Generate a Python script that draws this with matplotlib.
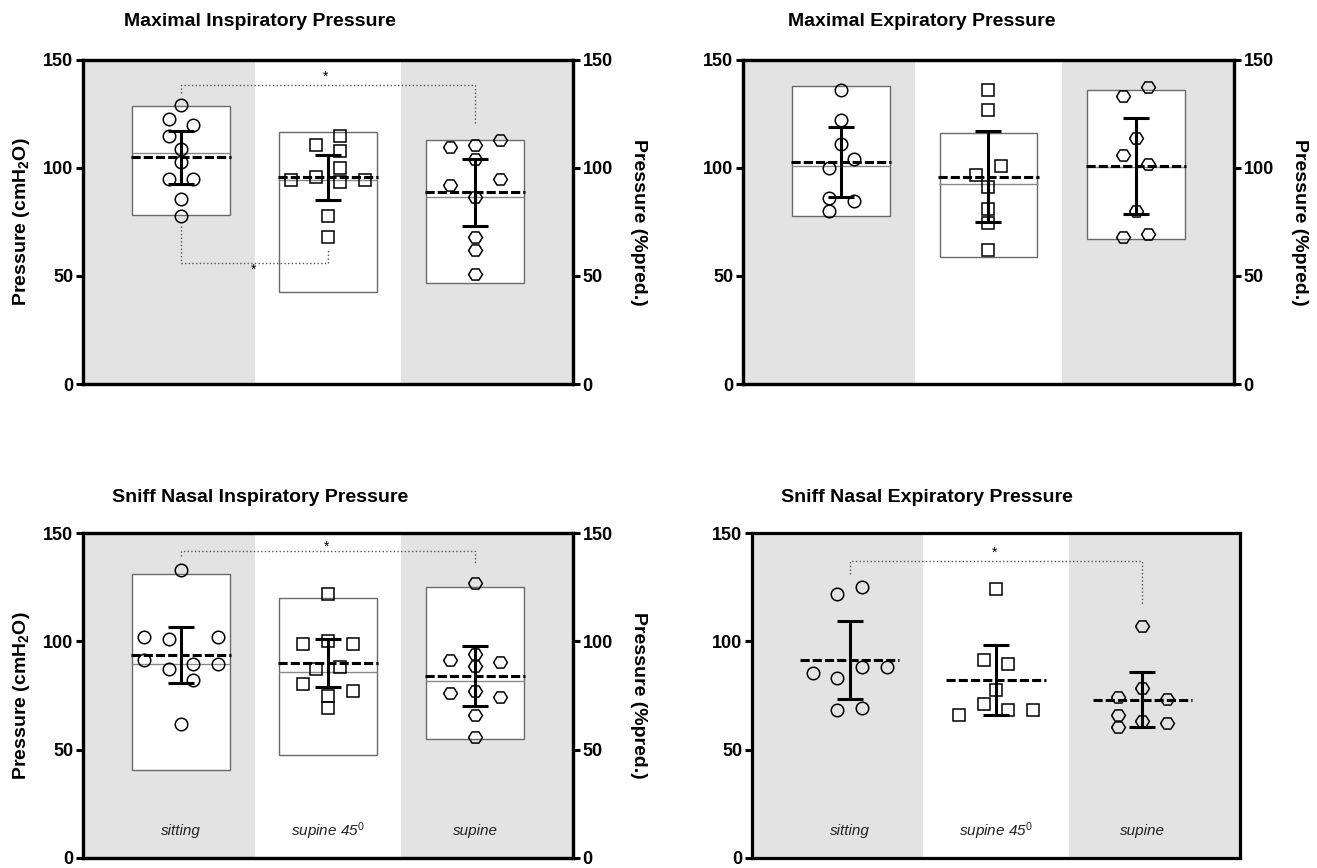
import matplotlib.pyplot as plt
from matplotlib import font_manager

installed = {f.name for f in font_manager.fontManager.ttflist}
narrow = "Liberation Sans Narrow" in installed

plt.rcParams["font.family"] = ["Liberation Sans", "DejaVu Sans"]
plt.rcParams["mathtext.fontset"] = "custom"
plt.rcParams["mathtext.rm"] = "Liberation Sans"
plt.rcParams["mathtext.it"] = "Liberation Sans:italic"
plt.rcParams["mathtext.bf"] = "Liberation Sans:bold"

positions = ["sitting", "supine 45$^0$", "supine"]

# individual values (cmH2O) per position
mip_sitting = [129.0, 122.8, 119.9, 114.8, 108.8, 102.8, 94.8, 94.8, 85.6, 77.9]
mip_supine45 = [114.8, 110.6, 107.9, 99.8, 94.6, 95.7, 93.5, 94.6, 77.8, 67.9]
mip_supine = [113.0, 109.7, 110.8, 104.0, 94.8, 92.0, 86.7, 67.9, 61.9, 50.8]

mep_sitting = [136.3, 122.4, 111.1, 104.0, 100.2, 86.0, 84.9, 79.9]
mep_supine45 = [136.3, 127.0, 100.9, 96.9, 91.0, 81.0, 74.4, 62.0]
mep_supine = [137.3, 133.2, 114.0, 106.2, 101.9, 80.2, 69.3, 68.1]

snip_sitting = [133.1, 102.0, 100.9, 102.0, 91.4, 89.7, 89.7, 87.4, 82.3, 62.0]
snip_supine45 = [122.0, 98.9, 98.9, 100.0, 87.1, 88.3, 80.3, 77.2, 74.9, 69.2]
snip_supine = [126.9, 94.0, 91.2, 90.5, 88.5, 77.2, 76.3, 74.3, 66.2, 55.8]

snep_sitting = [125.1, 122.0, 88.3, 88.3, 85.4, 83.2, 68.3, 69.2]
snep_supine45 = [124.2, 91.2, 89.7, 77.4, 71.2, 68.2, 68.2, 66.2]
snep_supine = [107.1, 78.3, 74.2, 73.2, 66.2, 63.1, 60.3, 62.2]

# mean and SD (cmH2O)
mip_mean = [104.9, 95.7, 88.7]
mip_sd = [12.3, 10.4, 15.6]
mep_mean = [102.9, 96.0, 100.9]
mep_sd = [16.3, 21.0, 22.3]
snip_mean = [93.8, 90.0, 84.0]
snip_sd = [12.8, 11.1, 13.8]
snep_mean = [91.4, 82.0, 73.1]
snep_sd = [17.8, 16.2, 12.7]

# predicted range (%pred.): low, high and mean line
mip_pred_low = [78.1, 42.6, 46.6]
mip_pred_high = [128.7, 116.7, 113.1]
mip_pred_mid = [106.8, 94.4, 86.7]
mep_pred_low = [77.8, 58.6, 67.3]
mep_pred_high = [138.1, 116.4, 136.1]
mep_pred_mid = [100.8, 92.7, 100.3]
snip_pred_low = [40.6, 47.5, 54.8]
snip_pred_high = [130.9, 120.2, 125.1]
snip_pred_mid = [89.7, 86.0, 81.5]

# beeswarm columns of the points (layout only)
mip_cols = [[0, -1, 1, -1, 0, 0, -1, 1, 0, 0],
            [1, -1, 1, 1, -3, -1, 1, 3, 0, 0],
            [2, -2, 0, 0, 2, -2, 0, 0, 0, 0]]
mep_cols = [[0, 0, 0, 1, -1, -1, 1, -1],
            [0, 0, 1, -1, 0, 0, 0, 0],
            [1, -1, 0, -1, 1, 0, 1, -1]]
snip_cols = [[0, -3, -1, 3, -3, 1, 3, -1, 1, 0],
             [0, -2, 2, 0, -1, 1, -2, 2, 0, 0],
             [0, 0, -2, 2, 0, 0, -2, 2, 0, 0]]
snep_cols = [[1, -1, 1, 3, -3, -1, -1, 1],
             [0, -1, 1, 0, -1, 1, 3, -3],
             [0, 0, -2, 2, -2, 0, -2, 2]]

hexagon = [(-1, 0), (-0.5, 0.8), (0.5, 0.8), (1, 0), (0.5, -0.8), (-0.5, -0.8), (-1, 0)]
markers = ["o", "s", hexagon]
marker_sizes = [9, 9, 10]

W, H = 1317, 868
fig = plt.figure(figsize=(W / 100, H / 100), dpi=100)

title_font = dict(fontweight="bold")
if narrow:
    title_font.update(family="Liberation Sans Narrow", fontsize=16)
else:
    title_font.update(fontsize=14)


def px_axes(left, top, right, bottom):
    return fig.add_axes([left / W, 1 - bottom / H, (right - left) / W, (bottom - top) / H])


def style_axes(ax):
    ax.set_xlim(-0.667, 2.667)
    ax.set_ylim(0, 150)
    ax.set_yticks([0, 50, 100, 150])
    ax.set_xticks([])
    for s in ax.spines.values():
        s.set_linewidth(2.3)
    ax.tick_params(axis="y", length=5, width=2.2, pad=2, labelsize=13)
    for lab in ax.get_yticklabels():
        lab.set_fontweight("bold")
    ax.axvspan(-1, 0.5, color="#e3e3e3", lw=0, zorder=0)
    ax.axvspan(1.5, 3, color="#e3e3e3", lw=0, zorder=0)


def draw_panel(ax, groups, cols, means, sds, low=None, high=None, mid=None):
    for i, vals in enumerate(groups):
        if low is not None:
            ax.bar(i, high[i] - low[i], bottom=low[i], width=0.665, color="white",
                   edgecolor="#6a6a6a", lw=1.0, zorder=1)
            ax.hlines(mid[i], i - 0.333, i + 0.333, color="#8a8a8a", lw=1.0, zorder=2)
        xs = [i + 0.084 * c for c in cols[i]]
        ax.plot(xs, vals, ls="none", marker=markers[i], ms=marker_sizes[i], mfc="none",
                mec="black", mew=1.1, zorder=3)
        ax.hlines(means[i], i - 0.34, i + 0.34, color="black", lw=2.2,
                  linestyles=(0, (3, 1)), zorder=4)
        ax.errorbar(i, means[i], yerr=sds[i], fmt="none", ecolor="black", elinewidth=2.2,
                    capsize=9.3, capthick=2.2, zorder=5)


def bracket(ax, x0, x1, y_bar, y0, y1, star_x, star_y):
    ax.plot([x0, x0, x1, x1], [y0, y_bar, y_bar, y1], ls=":", color="#555555", lw=1.0, zorder=2)
    ax.text(star_x, star_y, "*", ha="center", va="center", fontsize=10, zorder=6)


def right_axis(ax):
    ax2 = ax.twinx()
    ax2.set_ylim(0, 150)
    ax2.set_yticks([0, 50, 100, 150])
    ax2.tick_params(axis="y", length=5, width=2.2, pad=2, labelsize=13)
    for lab in ax2.get_yticklabels():
        lab.set_fontweight("bold")
    for s in ax2.spines.values():
        s.set_linewidth(2.3)
    ax2.set_ylabel("Pressure (%pred.)", rotation=-90, va="bottom", fontsize=14,
                   fontweight="bold", labelpad=12)
    return ax2


def category_labels(ax):
    for i, name in enumerate(positions):
        ax.text(i, 12.5, name, ha="center", va="center", style="italic", fontsize=11,
                color="#222222", zorder=6)


ylabel = "Pressure (cmH$_\\mathbf{2}$O)"

# Maximal Inspiratory Pressure
ax1 = px_axes(83, 60, 573, 384)
style_axes(ax1)
draw_panel(ax1, [mip_sitting, mip_supine45, mip_supine], mip_cols, mip_mean, mip_sd,
           mip_pred_low, mip_pred_high, mip_pred_mid)
bracket(ax1, 0, 2, 138.4, 134.9, 119.8, 0.98, 142.3)
bracket(ax1, 0, 1, 55.9, 73.3, 62.0, 0.49, 52.8)
ax1.set_ylabel(ylabel, fontsize=14, fontweight="bold", labelpad=8)
right_axis(ax1)
fig.text(260 / W, 1 - 22 / H, "Maximal Inspiratory Pressure", ha="center", va="center", **title_font)

# Maximal Expiratory Pressure
ax2 = px_axes(743, 60, 1234, 384)
style_axes(ax2)
draw_panel(ax2, [mep_sitting, mep_supine45, mep_supine], mep_cols, mep_mean, mep_sd,
           mep_pred_low, mep_pred_high, mep_pred_mid)
right_axis(ax2)
fig.text(922 / W, 1 - 22 / H, "Maximal Expiratory Pressure", ha="center", va="center", **title_font)

# Sniff Nasal Inspiratory Pressure
ax3 = px_axes(83, 533, 573, 858)
style_axes(ax3)
draw_panel(ax3, [snip_sitting, snip_supine45, snip_supine], snip_cols, snip_mean, snip_sd,
           snip_pred_low, snip_pred_high, snip_pred_mid)
bracket(ax3, 0, 2, 141.7, 139.5, 135.1, 0.99, 143.8)
category_labels(ax3)
ax3.set_ylabel(ylabel, fontsize=14, fontweight="bold", labelpad=8)
right_axis(ax3)
fig.text(260 / W, 1 - 497 / H, "Sniff Nasal Inspiratory Pressure", ha="center", va="center", **title_font)

# Sniff Nasal Expiratory Pressure
ax4 = px_axes(752, 533, 1240, 858)
style_axes(ax4)
draw_panel(ax4, [snep_sitting, snep_supine45, snep_supine], snep_cols, snep_mean, snep_sd)
bracket(ax4, 0, 2, 137.1, 131.2, 116.9, 0.99, 140.8)
category_labels(ax4)
fig.text(927 / W, 1 - 497 / H, "Sniff Nasal Expiratory Pressure", ha="center", va="center", **title_font)

fig.savefig("out.png", dpi=100)
